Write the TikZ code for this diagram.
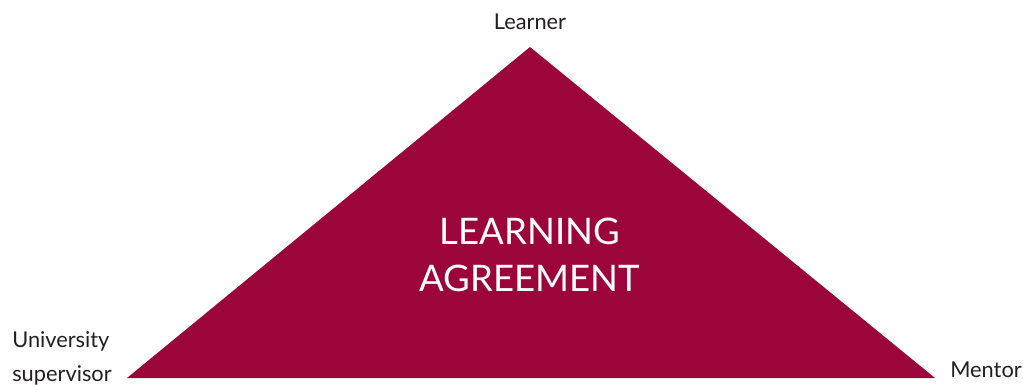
\documentclass[tikz,border=0pt]{standalone}
\usepackage{fontspec}
\setmainfont{Lato}
\usepackage{xcolor}
\usepackage{tikz}
\usetikzlibrary{positioning}

\definecolor{agreered}{RGB}{155,5,58}
\definecolor{labelgray}{RGB}{35,31,32}

\begin{document}
\begin{tikzpicture}[
    x=0.025cm, y=-0.025cm,
    role/.style={font=\fontsize{15.5}{24}\selectfont, text=labelgray, inner sep=0pt},
    title/.style={font=\fontsize{26}{33}\selectfont, text=white, align=center, inner sep=0pt},
  ]
    \useasboundingbox (0,0) rectangle (1023,385);

    % corners of the triangle
    \coordinate (apex)  at (530,47);
    \coordinate (left)  at (127,378);
    \coordinate (right) at (935,378);

    \fill[agreered] (apex) -- (left) -- (right) -- cycle;

    \node[title] (agreement) at (530,255) {LEARNING\\AGREEMENT};

    % the three parties
    \node[role, anchor=base] (learner) at (530,30) {Learner};
    \node[role, anchor=base west, align=left] (supervisor) at (12,381)
        {University\\supervisor};
    \node[role, anchor=base west] (mentor) at (950,377) {Mentor};
\end{tikzpicture}
\end{document}
